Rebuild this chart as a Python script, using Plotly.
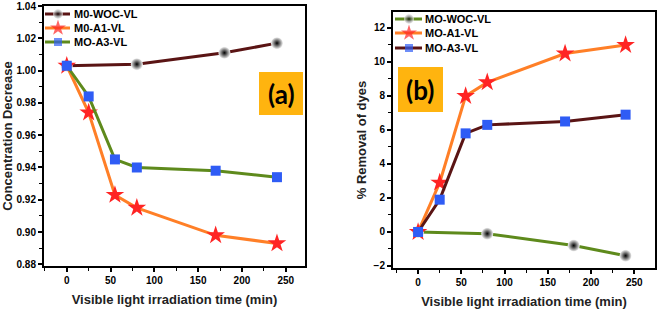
import plotly.graph_objects as go

# ---- data panel (a) ----
t_woc_a = [0, 80, 180, 240]
c_woc = [1.003, 1.004, 1.011, 1.017]
t_a1 = [0, 25, 55, 80, 170, 240]
c_a1 = [1.003, 0.974, 0.923, 0.915, 0.898, 0.893]
t_a3 = [0, 25, 55, 80, 170, 240]
c_a3 = [1.003, 0.984, 0.945, 0.940, 0.938, 0.934]

# ---- data panel (b) ----
t_woc_b = [0, 80, 180, 240]
r_woc = [0.0, -0.1, -0.8, -1.4]
r_a1 = [0.0, 2.9, 8.0, 8.8, 10.5, 11.0]
r_a3 = [0.0, 1.9, 5.8, 6.3, 6.5, 6.9]

names_a = ["M0-WOC-VL", "M0-A1-VL", "MO-A3-VL"]
names_b = ["MO-WOC-VL", "MO-A1-VL", "MO-A3-VL"]

BROWN = "#5a1414"
ORANGE = "#ff7f27"
GREEN = "#5e8a1c"
RED = "#ff2424"
BLUE = "#2f5cf5"

W, H = 661, 315


def sphere(s):
    return dict(symbol="circle", size=s, color="#f4f4f4",
                gradient=dict(type="radial", color="#000000"), line=dict(width=0))


def star(s):
    return dict(symbol="star", size=s, color=RED, line=dict(width=0))


def square(s):
    return dict(symbol="square", size=s, color=BLUE, line=dict(width=0))


fig = go.Figure()

series_a = [(t_woc_a, c_woc, BROWN, sphere, 12), (t_a1, c_a1, ORANGE, star, 14), (t_a3, c_a3, GREEN, square, 10)]
series_b = [(t_woc_b, r_woc, GREEN, sphere, 12), (t_a1, r_a1, ORANGE, star, 14), (t_a3, r_a3, BROWN, square, 10)]

for (x, y, col, mk, s), nm in zip(series_a, names_a):
    fig.add_trace(go.Scatter(x=x, y=y, name=nm, mode="lines+markers", showlegend=False,
                             line=dict(color=col, width=3), marker=mk(s), xaxis="x", yaxis="y"))
for (x, y, col, mk, s), nm in zip(series_b, names_b):
    fig.add_trace(go.Scatter(x=x, y=y, name=nm, mode="lines+markers", showlegend=False,
                             line=dict(color=col, width=3), marker=mk(s), xaxis="x2", yaxis="y2"))

# ---- custom compact legends on a pixel overlay axis ----
legfont = dict(family="Liberation Sans Narrow, Liberation Sans", size=11, color="black", weight="bold")


def add_legend(x0, x1, xm, xt, rows, series, names):
    for yr, (x, y, col, mk, s), nm in zip(rows, series, names):
        fig.add_trace(go.Scatter(x=[x0, xm, x1], y=[yr, yr, yr], mode="lines+markers", showlegend=False,
                                 hoverinfo="skip", line=dict(color=col, width=3),
                                 marker=mk([0, s - 2, 0]), xaxis="x3", yaxis="y3"))
        fig.add_annotation(xref="x3", yref="y3", x=xt, y=yr, text="<b>" + nm + "</b>", showarrow=False,
                           xanchor="left", yanchor="middle", font=legfont)


add_legend(45, 70, 58, 72, [14, 28, 42], series_a, names_a)
add_legend(395, 422, 409, 423, [19, 33, 48], series_b, names_b)

tickfont = dict(family="Liberation Sans", size=10, color="black", weight="bold")
titlefont = dict(family="Liberation Sans", size=13, color="#222222", weight="bold")


def xax(domain, anchor, rng):
    return dict(domain=domain, anchor=anchor, range=rng, showgrid=False, zeroline=False, automargin=False,
                showline=True, linecolor="black", linewidth=2, mirror=True,
                ticks="outside", ticklen=4, tickwidth=1.5, tickcolor="black",
                tickvals=[0, 50, 100, 150, 200, 250], tickfont=tickfont,
                minor=dict(ticks="outside", ticklen=3, tickwidth=1, dtick=25, tick0=0, tickcolor="black"),
                title=dict(text="Visible light irradiation time (min)", font=titlefont, standoff=10))


def yax(domain, anchor, rng, dtick, minor, title, fmt):
    return dict(domain=domain, anchor=anchor, range=rng, showgrid=False, zeroline=False, automargin=False,
                showline=True, linecolor="black", linewidth=2, mirror=True,
                ticks="outside", ticklen=4, tickwidth=1.5, tickcolor="black",
                dtick=dtick, tick0=0, tickformat=fmt, tickfont=tickfont,
                minor=dict(ticks="outside", ticklen=3, tickwidth=1, dtick=minor, tickcolor="black"),
                title=dict(text=title, font=titlefont, standoff=4))


fig.update_layout(
    width=W, height=H,
    margin=dict(l=0, r=0, t=0, b=0),
    paper_bgcolor="white", plot_bgcolor="rgba(0,0,0,0)",
    showlegend=False,
    xaxis=xax([44 / W, 305 / W], "y", [-26, 272]),
    yaxis=yax([1 - 266 / H, 1 - 6 / H], "x", [0.879, 1.04], 0.02, 0.01, "Concentration Decrease", ".2f"),
    xaxis2=xax([393 / W, 655 / W], "y2", [-29, 274]),
    yaxis2=yax([1 - 268 / H, 1 - 12 / H], "x2", [-2.12, 12.94], 2, 1, "% Removal of dyes", "d"),
    xaxis3=dict(domain=[0, 1], anchor="y3", range=[0, W], visible=False, fixedrange=True, automargin=False),
    yaxis3=dict(domain=[0, 1], anchor="x3", range=[H, 0], visible=False, fixedrange=True, automargin=False),
)

# label boxes
fig.add_shape(type="rect", xref="paper", yref="paper",
              x0=259 / W, x1=303 / W, y0=1 - 115 / H, y1=1 - 72 / H,
              fillcolor="#ffb40f", line=dict(width=0), layer="below")
fig.add_annotation(xref="paper", yref="paper", x=281 / W, y=1 - 94 / H, text="<b>(a)</b>",
                   xanchor="center", yanchor="middle",
                   showarrow=False, font=dict(family="Lato", size=26, color="black"))
fig.add_shape(type="rect", xref="paper", yref="paper",
              x0=398 / W, x1=443 / W, y0=1 - 112 / H, y1=1 - 67 / H,
              fillcolor="#ffb40f", line=dict(width=0), layer="below")
fig.add_annotation(xref="paper", yref="paper", x=420 / W, y=1 - 90 / H, text="<b>(b)</b>",
                   xanchor="center", yanchor="middle",
                   showarrow=False, font=dict(family="Lato", size=26, color="black"))

fig.write_html("out.html", config={"displayModeBar": False},
               post_script="document.body.style.margin='0';document.body.style.overflow='hidden';")
